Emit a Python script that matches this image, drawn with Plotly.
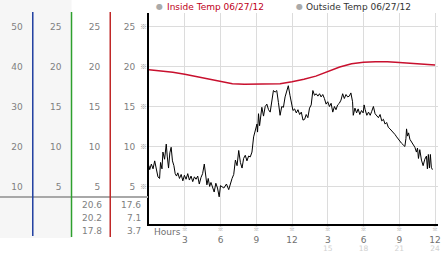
import plotly.graph_objects as go

# ---------------- data ----------------
inside_hours = [0, 1, 2, 3, 4, 5, 6, 7, 8, 9, 10, 11, 12, 13, 14, 15, 16, 17, 18, 19, 20, 21, 22, 23, 24]
inside_temp = [19.6, 19.45, 19.3, 19.05, 18.75, 18.4, 18.1, 17.85, 17.8, 17.8, 17.8, 17.85, 18.1,
               18.4, 18.8, 19.4, 19.95, 20.35, 20.55, 20.6, 20.6, 20.5, 20.4, 20.3, 20.2]

outside_hours = [0.00, 0.06, 0.20, 0.34, 0.48, 0.61, 0.75, 0.89, 0.97, 1.09, 1.17, 1.31, 1.45, 1.53,
                 1.64, 1.75, 1.86, 1.97, 2.09, 2.20, 2.31, 2.42, 2.56, 2.70, 2.84, 2.97, 3.11, 3.25,
                 3.39, 3.53, 3.67, 3.81, 3.95, 4.09, 4.22, 4.36, 4.50, 4.64, 4.75, 4.86, 4.97, 5.09,
                 5.20, 5.34, 5.47, 5.61, 5.75, 5.89,
                 6.00, 6.28, 6.50, 6.69, 6.83, 6.97, 7.11, 7.25, 7.39, 7.53, 7.67, 7.81, 7.94, 8.08,
                 8.22, 8.36, 8.50, 8.64, 8.78, 8.92, 9.06, 9.11, 9.19, 9.28, 9.39, 9.47, 9.61, 9.75,
                 9.89, 10.03, 10.17, 10.31, 10.44, 10.58, 10.72, 10.86, 11.00, 11.14, 11.28, 11.42,
                 11.56, 11.69, 11.83, 11.97,
                 12.08, 12.22, 12.36, 12.50, 12.64, 12.78, 12.92, 13.06, 13.19, 13.33, 13.47, 13.61,
                 13.75, 13.89, 14.03, 14.17, 14.31, 14.44, 14.58, 14.72, 14.86, 15.00, 15.14, 15.28,
                 15.42, 15.56, 15.69, 15.83, 15.97, 16.11, 16.25, 16.39, 16.53, 16.67, 16.81, 16.94,
                 17.08, 17.14, 17.28, 17.42, 17.55, 17.69, 17.83, 17.97,
                 18.05, 18.14, 18.28, 18.42, 18.56, 18.69, 18.83, 18.97, 19.11, 19.25, 19.39, 19.53,
                 19.67, 19.81, 19.94, 20.08, 20.22, 20.36, 20.50, 20.64, 20.78, 20.92, 21.06, 21.19,
                 21.33, 21.47, 21.56, 21.61, 21.69, 21.78, 21.89, 22.03, 22.17, 22.31, 22.44, 22.53,
                 22.61, 22.72, 22.86, 23.00, 23.14, 23.28, 23.36, 23.44, 23.53, 23.61, 23.69, 23.78]
outside_temp = [7.6, 7.1, 7.8, 7.2, 8.2, 7.3, 6.2, 6.0, 8.0, 7.2, 9.3, 8.4, 10.3, 8.8,
                7.3, 9.2, 9.9, 8.2, 7.6, 6.6, 6.3, 6.7, 6.0, 6.5, 5.7, 6.4, 5.9, 6.6,
                5.8, 6.3, 5.6, 6.2, 5.9, 6.3, 5.3, 6.1, 6.6, 7.8, 6.3, 5.2, 6.0, 5.0,
                5.5, 4.7, 4.3, 5.4, 4.8, 3.7,
                5.1, 4.8, 5.3, 4.6, 5.4, 6.0, 6.5, 8.3, 7.6, 9.5, 8.0, 7.3, 8.5, 8.9,
                8.2, 8.8, 8.7, 9.3, 11.2, 12.0, 12.8, 11.8, 14.1, 12.6, 14.5, 14.9, 13.8, 15.0,
                15.3, 14.6, 14.3, 15.8, 17.0, 16.8, 17.0, 15.5, 13.9, 15.0, 14.9, 16.2,
                16.8, 17.6, 16.4, 15.2,
                14.5, 14.7, 14.2, 14.6, 14.0, 14.3, 13.3, 13.4, 14.0, 13.6, 14.8, 15.2,
                17.0, 16.4, 16.6, 16.3, 16.6, 16.2, 16.5, 16.0, 15.3, 15.6, 15.0, 15.4,
                14.3, 15.0, 14.6, 15.2, 15.4, 15.8, 16.6, 16.0, 16.5, 16.2, 16.3, 16.7,
                15.6, 13.9, 14.8, 14.2, 14.7, 14.0, 14.5, 14.2,
                15.2, 14.6, 13.9, 14.3, 13.9, 14.4, 15.0, 14.1, 13.9, 13.6, 14.0, 13.2,
                13.4, 12.8, 13.0, 12.4, 12.2, 12.0, 11.8, 11.5, 11.2, 10.9, 10.6, 10.4,
                10.2, 10.0, 11.0, 12.2, 11.3, 11.7, 10.9, 10.6, 10.2, 9.9, 9.3, 9.8,
                8.5, 9.6, 8.3, 7.6, 8.4, 8.8, 7.2, 9.0, 7.3, 9.0, 7.4, 7.1]

hour_ticks = [3, 6, 9, 12, 15, 18, 21, 24]
hour_labels = ["3", "6", "9", "12", "3", "6", "9", "12"]
hour24_ticks = [15, 18, 21, 24]
hour24_labels = ["15", "18", "21", "24"]
temp_ticks = [5, 10, 15, 20, 25]
wide_ticks = [10, 20, 30, 40, 50]
legend_labels = ["Inside Temp 06/27/12", "Outside Temp 06/27/12"]

# ---------------- geometry helpers ----------------
W, H = 442, 253
def px(x):
    return x / W
def py(y):
    return 1 - y / H

FONT = "DejaVu Sans"
Y_RANGE = [0.3, 26.7]
X_RANGE = [0, 24.25]
X_DOM = [px(150), px(441)]
Y_DOM = [py(224), py(13)]
MARK = "※"

fig = go.Figure()
fig.add_trace(go.Scatter(x=inside_hours, y=inside_temp, mode="lines",
                         line=dict(color="#c8102e", width=1.5), hoverinfo="skip"))
fig.add_trace(go.Scatter(x=outside_hours, y=outside_temp, mode="lines",
                         line=dict(color="#000000", width=1), hoverinfo="skip"))
# empty traces so that the extra scale axes get drawn
for xa, ya in [("x2", "y"), ("x3", "y"), ("x", "y2"), ("x", "y3"), ("x", "y4"), ("x", "y5")]:
    fig.add_trace(go.Scatter(x=[None], y=[None], xaxis=xa, yaxis=ya, mode="lines",
                             hoverinfo="skip", showlegend=False))

lab_font = dict(family=FONT, size=9, color="#808080")
mark_font = dict(family="Noto Sans CJK JP", size=7, color="#909090")
xmark_font = dict(family="Noto Sans CJK JP", size=5.5, color="#909090")

fig.update_layout(
    width=W, height=H, margin=dict(l=0, r=0, t=0, b=0),
    paper_bgcolor="white", plot_bgcolor="white", showlegend=False,
    font=dict(family=FONT, size=9, color="#666"),
    xaxis=dict(domain=X_DOM, range=X_RANGE, tickvals=hour_ticks, ticktext=hour_labels,
               showgrid=True, gridcolor="#dcdcdc", gridwidth=1, zeroline=False,
               showline=True, linecolor="black", linewidth=2, ticks="",
               ticklabelstandoff=6, ticklabeloverflow="allow",
               tickfont=dict(family=FONT, size=9, color="#707070"), anchor="y"),
    xaxis2=dict(overlaying="x", anchor="free", position=py(224), range=X_RANGE,
                tickvals=hour_ticks, ticktext=[MARK] * len(hour_ticks), showgrid=False,
                zeroline=False, showline=False, ticks="", ticklabelstandoff=0,
                ticklabeloverflow="allow", tickfont=xmark_font),
    xaxis3=dict(overlaying="x", anchor="free", position=py(224), range=X_RANGE,
                tickvals=hour24_ticks, ticktext=hour24_labels, showgrid=False,
                zeroline=False, showline=False, ticks="", ticklabelstandoff=18,
                ticklabeloverflow="allow", tickfont=dict(family=FONT, size=7.5, color="#d0d0d0")),
    yaxis=dict(domain=Y_DOM, range=Y_RANGE, tickvals=temp_ticks,
               showgrid=True, gridcolor="#dcdcdc", gridwidth=1, zeroline=False,
               showline=True, linecolor="black", linewidth=2, ticks="",
               ticklabelstandoff=10, tickfont=lab_font, anchor="x"),
    yaxis5=dict(overlaying="y", anchor="free", position=px(149), range=Y_RANGE,
                tickvals=temp_ticks, ticktext=[MARK] * len(temp_ticks), showgrid=False,
                zeroline=False, showline=False, ticks="", ticklabelstandoff=1,
                tickfont=mark_font),
    yaxis2=dict(overlaying="y", anchor="free", position=px(33),
                range=[2 * Y_RANGE[0], 2 * Y_RANGE[1]], tickvals=wide_ticks,
                showgrid=False, zeroline=False, showline=False, ticks="",
                ticklabelstandoff=10, tickfont=lab_font),
    yaxis3=dict(overlaying="y", anchor="free", position=px(72), range=Y_RANGE,
                tickvals=temp_ticks, showgrid=False, zeroline=False, showline=False,
                ticks="", ticklabelstandoff=10, tickfont=lab_font),
    yaxis4=dict(overlaying="y", anchor="free", position=px(111), range=Y_RANGE,
                tickvals=temp_ticks, showgrid=False, zeroline=False, showline=False,
                ticks="", ticklabelstandoff=10, tickfont=lab_font),
)

shapes = []
shapes.append(dict(type="rect", xref="paper", yref="paper", x0=0, x1=px(72), y0=py(238), y1=1,
                   fillcolor="#f6f6f6", line=dict(width=0), layer="below"))
shapes.append(dict(type="line", xref="paper", yref="paper", x0=0, x1=px(149), y0=py(197), y1=py(197),
                   line=dict(color="#a8a8a8", width=2)))
for xx, col, yb in [(33, "#1f3fa0", 236), (72, "#2ea02e", 237), (111, "#c02828", 237)]:
    shapes.append(dict(type="line", xref="paper", yref="paper", x0=px(xx), x1=px(xx),
                       y0=py(yb), y1=py(12), line=dict(color=col, width=1.5)))
fig.update_layout(shapes=shapes)

ann = []
ann.append(dict(text="●", x=px(161), y=py(7), xref="paper", yref="paper", showarrow=False,
                xanchor="center", yanchor="middle", font=dict(family=FONT, size=8, color="#aaa")))
ann.append(dict(text=legend_labels[0], x=px(166), y=py(7), xref="paper", yref="paper", showarrow=False,
                xanchor="left", yanchor="middle", font=dict(family=FONT, size=9, color="#c0001a")))
ann.append(dict(text="●", x=px(302), y=py(7), xref="paper", yref="paper", showarrow=False,
                xanchor="center", yanchor="middle", font=dict(family=FONT, size=8, color="#aaa")))
ann.append(dict(text=legend_labels[1], x=px(306), y=py(7), xref="paper", yref="paper", showarrow=False,
                xanchor="left", yanchor="middle", font=dict(family=FONT, size=9, color="#333")))
ann.append(dict(text="Hours", x=px(153), y=py(232), xref="paper", yref="paper", showarrow=False,
                xanchor="left", yanchor="middle", font=dict(family=FONT, size=9, color="#707070")))
in_stats = [max(inside_temp), inside_temp[-1], min(inside_temp)]
out_stats = [max(outside_temp), outside_temp[-1], min(outside_temp)]
for i, yy in enumerate([205, 218, 231]):
    ann.append(dict(text=f"{in_stats[i]:.1f}", x=px(105), y=py(yy), xref="paper", yref="paper",
                    showarrow=False, xanchor="right", yanchor="middle", font=lab_font))
    ann.append(dict(text=f"{out_stats[i]:.1f}", x=px(144), y=py(yy), xref="paper", yref="paper",
                    showarrow=False, xanchor="right", yanchor="middle", font=lab_font))
fig.update_layout(annotations=ann)

fig.write_html("out.html")
